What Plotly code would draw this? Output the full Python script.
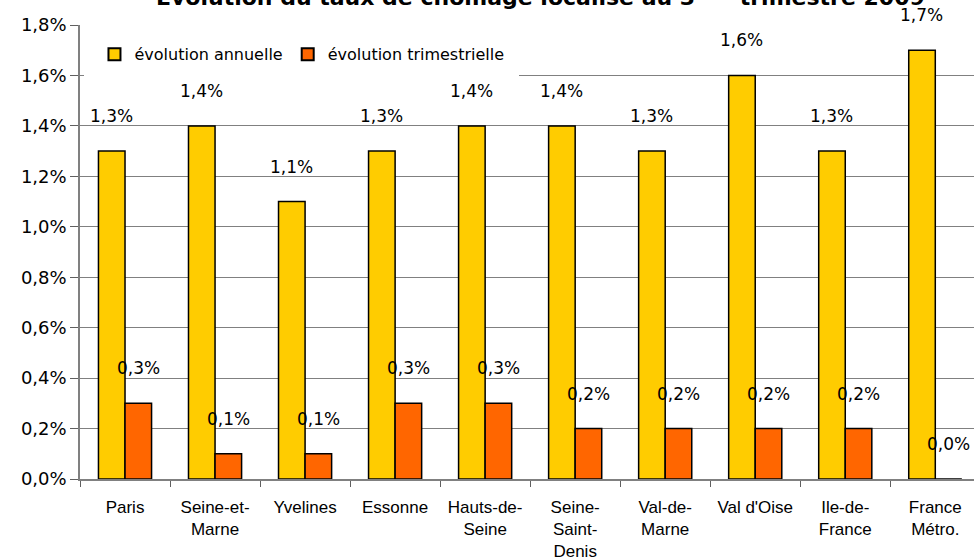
import plotly.graph_objects as go

categories = ["Paris", "Seine-et-<br>Marne", "Yvelines", "Essonne", "Hauts-de-<br>Seine",
              "Seine-<br>Saint-<br>Denis", "Val-de-<br>Marne", "Val d'Oise", "Ile-de-<br>France",
              "France<br>Métro."]
annuelle = [1.3, 1.4, 1.1, 1.3, 1.4, 1.4, 1.3, 1.6, 1.3, 1.7]
trimestrielle = [0.3, 0.1, 0.1, 0.3, 0.3, 0.2, 0.2, 0.2, 0.2, 0.0]

YELLOW = "#FFCC00"
ORANGE = "#FF6600"

def fmt(v):
    return f"{v:.1f}".replace(".", ",") + "%"

fig = go.Figure()
fig.add_trace(go.Bar(name="évolution annuelle", x=categories, y=annuelle,
                     marker=dict(color=YELLOW, line=dict(color="black", width=1.5))))
fig.add_trace(go.Bar(name="évolution trimestrielle", x=categories, y=trimestrielle,
                     marker=dict(color=ORANGE, line=dict(color="black", width=1.5))))

ann = []
for c, v in zip(categories, annuelle):
    ann.append(dict(x=c, y=v, xref="x", yref="y", text=fmt(v), showarrow=False,
                    xshift=-13.5, yshift=35, yanchor="middle",
                    font=dict(family="DejaVu Sans", size=17, color="black")))
for c, v in zip(categories, trimestrielle):
    ann.append(dict(x=c, y=v, xref="x", yref="y", text=fmt(v), showarrow=False,
                    xshift=13.5, yshift=35, yanchor="middle",
                    font=dict(family="DejaVu Sans", size=17, color="black")))
ann.append(dict(x=0.515, y=1, xref="paper", yref="paper", yanchor="middle", yshift=29,
                showarrow=False,
                text="<b>Évolution du taux de chômage localisé au 3<sup>ème</sup> trimestre 2009</b>",
                font=dict(family="DejaVu Sans", size=22, color="black")))

fig.update_layout(
    width=974, height=560,
    margin=dict(l=80, r=0, t=25, b=81),
    paper_bgcolor="white", plot_bgcolor="white",
    barmode="group", bargap=0.41, bargroupgap=0,
    separators=", ",
    showlegend=True,
    legend=dict(orientation="h", x=0.005, y=0.995, xanchor="left", yanchor="top",
                bgcolor="white", bordercolor="white", borderwidth=10,
                font=dict(family="DejaVu Sans", size=16, color="black"),
                itemsizing="constant"),
    annotations=ann,
)
fig.update_xaxes(type="category", range=[-0.5, 9.43], showline=True, linecolor="#808080",
                 linewidth=1.5, ticks="outside", tickson="boundaries", ticklen=6,
                 tickcolor="#606060", showgrid=False, ticklabelstandoff=12, automargin=False,
                 tickfont=dict(family="Liberation Sans", size=17, color="black"))
fig.update_yaxes(range=[0, 1.8], dtick=0.2, tickformat=".1f", ticksuffix="%",
                 showline=True, linecolor="#808080", linewidth=1.5, automargin=False,
                 showgrid=True, gridcolor="#808080", gridwidth=1,
                 ticks="outside", ticklen=8, tickcolor="#606060", zeroline=False,
                 tickfont=dict(family="DejaVu Sans", size=18, color="black"))

fig.write_html("out.html", config={"displayModeBar": False},
               post_script="document.body.style.margin='0';document.body.style.overflow='hidden';")
